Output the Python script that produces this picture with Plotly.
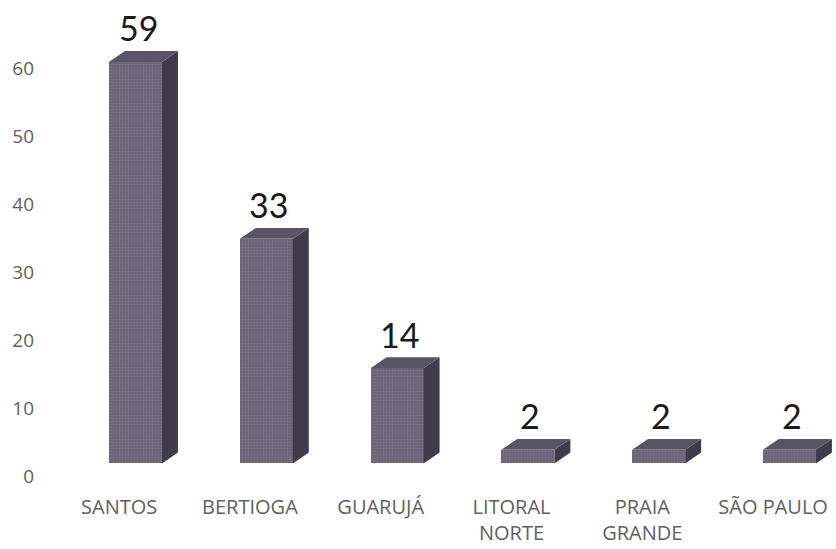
import plotly.graph_objects as go

# Data
categories = ["SANTOS", "BERTIOGA", "GUARUJÁ", "LITORAL<br>NORTE", "PRAIA<br>GRANDE", "SÃO PAULO"]
values = [59, 33, 14, 2, 2, 2]
y_ticks = [0, 10, 20, 30, 40, 50, 60]

# Pseudo-3D column geometry (axis units)
FLOOR = 1.9        # front face sits slightly above the axis zero (perspective floor)
HALF_W = 0.203     # half width of the front face
DEPTH_X = 0.122    # horizontal depth of the column
DEPTH_Y = 1.6      # vertical depth of the column

FRONT = "#6a6579"
SIDE = "#3f3b4a"
TOP = "#595466"
TICK_COLOR = "#606060"

positions = list(range(len(values)))

fig = go.Figure()

# front faces
fig.add_trace(go.Bar(
    x=positions, y=values, base=FLOOR, width=2 * HALF_W,
    marker=dict(color=FRONT, line=dict(width=0),
                pattern=dict(shape=".", fgcolor="#8a8598", bgcolor=FRONT,
                             size=3, solidity=0.25)),
    hoverinfo="skip", showlegend=False,
))

# side and top faces built from each column's value
for i, v in zip(positions, values):
    top = FLOOR + v
    xr = i + HALF_W
    xl = i - HALF_W
    fig.add_trace(go.Scatter(
        x=[xr, xr + DEPTH_X, xr + DEPTH_X, xr, xr],
        y=[FLOOR, FLOOR + DEPTH_Y, top + DEPTH_Y, top, FLOOR],
        fill="toself", fillcolor=SIDE, mode="lines", line=dict(width=0),
        hoverinfo="skip", showlegend=False,
    ))
    fig.add_trace(go.Scatter(
        x=[xl, xr, xr + DEPTH_X, xl + DEPTH_X, xl],
        y=[top, top, top + DEPTH_Y, top + DEPTH_Y, top],
        fill="toself", fillcolor=TOP, mode="lines", line=dict(width=0),
        hoverinfo="skip", showlegend=False,
    ))
    # value label above the column
    fig.add_annotation(
        x=i + 0.02, y=top, text=str(v), showarrow=False,
        yanchor="middle", yshift=34,
        font=dict(family="Lato", size=34, color="#1a1a1a"),
    )

fig.update_layout(
    width=836, height=549,
    margin=dict(l=40, r=0, t=0, b=59),
    paper_bgcolor="white", plot_bgcolor="white",
    showlegend=False,
    bargap=0,
    xaxis=dict(
        range=[-0.730, 5.356],
        tickmode="array",
        tickvals=[p - 0.125 for p in positions],
        ticktext=categories,
        showgrid=False, zeroline=False, showline=False, ticks="",
        ticklabelstandoff=3,
        tickfont=dict(family="Open Sans", size=20, color=TICK_COLOR),
    ),
    yaxis=dict(
        range=[-2, 70],
        tickmode="array",
        tickvals=y_ticks,
        showgrid=False, zeroline=False, showline=False, ticks="",
        ticklabelstandoff=5,
        tickfont=dict(family="Open Sans", size=19, color=TICK_COLOR),
    ),
)

fig.write_html("out.html")
